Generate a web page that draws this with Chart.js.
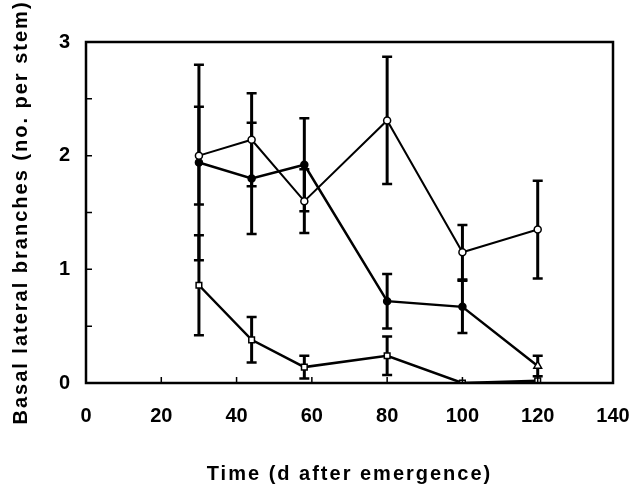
<!DOCTYPE html>
<html>
<head>
<meta charset="utf-8">
<script src="https://cdn.jsdelivr.net/npm/chart.js@4"></script>
<style>
  html, body { margin: 0; padding: 0; background: #fff; }
  #wrap { width: 634px; height: 488px; }
</style>
</head>
<body>
<div id="wrap"><canvas id="lineChart"></canvas></div>
<script>
// days after emergence
const days = [30, 44, 58, 80, 100, 120];

// open circles
const openMean = [2.00, 2.14, 1.60, 2.31, 1.15, 1.35];
const openErr = [0.43, 0.41, 0.28, 0.56, 0.24, 0.43];

// filled circles (last point drawn as a triangle)
const filledMean = [1.94, 1.80, 1.92, 0.72, 0.67, 0.15];
const filledErr = [0.86, 0.49, 0.41, 0.24, 0.23, 0.09];

// open squares
const squareMean = [0.86, 0.38, 0.14, 0.24, 0.00, 0.02];
const squareErr = [0.44, 0.20, 0.10, 0.17, 0.00, 0.00];

const xTicks = [0, 20, 40, 60, 80, 100, 120, 140];
const yTicks = [0, 1, 2, 3];

const xTitle = 'Time (d after emergence)';
const yTitle = 'Basal lateral branches (no. per stem)';

const ctx = document.getElementById("lineChart").getContext("2d");

function points(mean) {
   return days.map((d, i) => ({ x: d, y: mean[i] }));
}

const errorBars = {
   id: 'errorBars',
   beforeDatasetsDraw(chart) {
      const c = chart.ctx;
      const xs = chart.scales.x, ys = chart.scales.y;
      c.save();
      c.strokeStyle = '#000';
      chart.data.datasets.forEach(ds => {
         ds.errors.forEach((e, i) => {
            if (!e) return;
            const px = xs.getPixelForValue(days[i]);
            const top = ys.getPixelForValue(ds.data[i].y + e);
            const bot = ys.getPixelForValue(Math.max(0, ds.data[i].y - e));
            c.lineWidth = 3;
            c.beginPath();
            c.moveTo(px, top); c.lineTo(px, bot);
            c.stroke();
            c.lineWidth = 2.5;
            c.beginPath();
            c.moveTo(px - 5, top); c.lineTo(px + 5, top);
            c.moveTo(px - 5, bot); c.lineTo(px + 5, bot);
            c.stroke();
         });
      });
      c.restore();
   },
   afterDraw(chart) {
      const c = chart.ctx;
      const a = chart.chartArea;
      const xs = chart.scales.x, ys = chart.scales.y;
      c.save();
      c.strokeStyle = '#000';
      c.lineWidth = 2.5;
      c.strokeRect(a.left, a.top, a.right - a.left, a.bottom - a.top);
      c.lineWidth = 1.5;
      c.beginPath();
      xTicks.forEach(v => {
         const px = xs.getPixelForValue(v);
         c.moveTo(px, a.bottom); c.lineTo(px, a.bottom - 6);
      });
      for (let v = 0.5; v < 3; v += 0.5) {
         const py = ys.getPixelForValue(v);
         c.moveTo(a.left, py); c.lineTo(a.left + 6, py);
      }
      c.stroke();

      // axis titles, spaced out like the original typesetting
      c.fillStyle = '#000';
      c.font = 'bold 20px "Liberation Sans"';
      c.letterSpacing = '2px';
      c.textAlign = 'center';
      c.textBaseline = 'alphabetic';
      c.fillText(xTitle, (a.left + a.right) / 2, 480);
      c.translate(27, (a.top + a.bottom) / 2);
      c.rotate(-Math.PI / 2);
      c.fillText(yTitle, 0, 0);
      c.restore();
   }
};

const tickFont = { family: 'Liberation Sans', size: 20, weight: 'bold' };

const lineChart = new Chart(ctx, {
   type: 'scatter',
   data: {
      datasets: [
         {
            label: 'open',
            data: points(openMean),
            errors: openErr,
            showLine: true,
            borderColor: '#000',
            borderWidth: 2,
            pointStyle: 'circle',
            pointRadius: 3.5,
            pointBorderWidth: 1.5,
            pointBorderColor: '#000',
            pointBackgroundColor: '#fff',
         },
         {
            label: 'filled',
            data: points(filledMean),
            errors: filledErr,
            showLine: true,
            borderColor: '#000',
            borderWidth: 2.5,
            pointStyle: ['circle', 'circle', 'circle', 'circle', 'circle', 'triangle'],
            pointRadius: [3.5, 3.5, 3.5, 3.5, 3.5, 4.5],
            pointBorderWidth: 1.5,
            pointBorderColor: '#000',
            pointBackgroundColor: ['#000', '#000', '#000', '#000', '#000', '#fff'],
         },
         {
            label: 'square',
            data: points(squareMean),
            errors: squareErr,
            showLine: true,
            borderColor: '#000',
            borderWidth: 2.5,
            pointStyle: 'rect',
            pointRadius: 4,
            pointBorderWidth: 1.5,
            pointBorderColor: '#000',
            pointBackgroundColor: '#fff',
         },
      ],
   },
   options: {
      responsive: true,
      maintainAspectRatio: false,
      animation: false,
      layout: { padding: { top: 42, right: 21, left: 0, bottom: 0 } },
      plugins: {
         legend: { display: false },
         tooltip: { enabled: false },
      },
      scales: {
         x: {
            type: 'linear',
            min: 0,
            max: 140,
            afterFit: s => {
               s.height = 105;
               s.paddingLeft = 0;
               s.paddingRight = 0;
            },
            afterBuildTicks: s => { s.ticks = xTicks.map(v => ({ value: v })); },
            grid: { display: false, drawTicks: false },
            border: { display: false },
            ticks: {
               color: '#000',
               padding: 21,
               font: tickFont,
            },
            title: { display: false, text: xTitle },
         },
         y: {
            min: 0,
            max: 3,
            afterFit: s => {
               s.width = 86;
               s.paddingTop = 0;
               s.paddingBottom = 0;
            },
            afterBuildTicks: s => { s.ticks = yTicks.map(v => ({ value: v })); },
            grid: { display: false, drawTicks: false },
            border: { display: false },
            ticks: {
               color: '#000',
               padding: 16,
               font: tickFont,
            },
            title: { display: false, text: yTitle },
         },
      },
   },
   plugins: [errorBars],
});
</script>
</body>
</html>
